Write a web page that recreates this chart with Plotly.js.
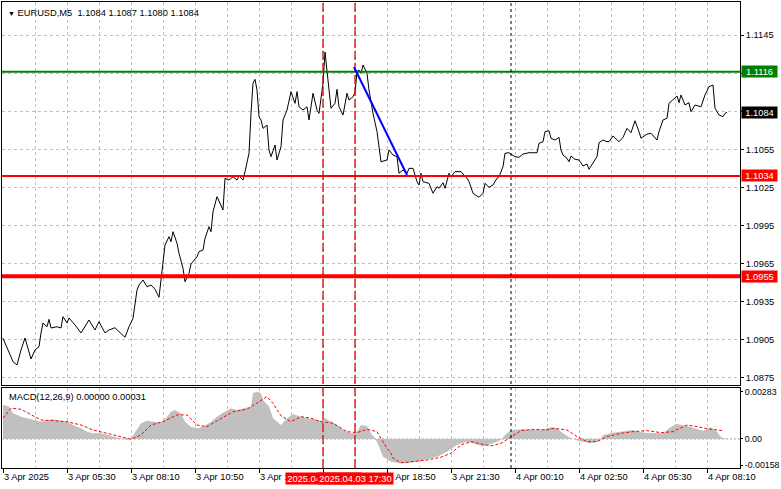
<!DOCTYPE html>
<html><head><meta charset="utf-8">
<script src="https://cdn.plot.ly/plotly-3.0.1.min.js"></script>
<style>html,body{margin:0;padding:0;background:#fff}#chart{width:781px;height:489px}</style>
</head><body><div id="chart"></div>
<script>
// bar index: 0 = 3 Apr 02:50, one bar = 5 minutes
const priceBar = [0,3,5,7,9,11,13,14,16,18,
19,20,22,23,24,27,29,30,32,33,
36,39,43,46,48,51,53,56,58,61,
63,65,67,68,70,72,74,76,78,79,
80,81,83,84,85,87,88,90,91,93,
94,95,97,98,100,101,103,104,105,107,
108,110,111,113,115,117,118,120,121,123,
124,125,126,127,128,129,130,132,133,134,
136,137,139,140,142,144,146,147,148,150,
152,153,155,157,158,160,161,162,163,164,
166,167,168,170,172,173,175,176,177,178,
179,180,182,183,185,187,189,192,193,195,
197,198,200,202,203,205,207,208,209,210,
213,215,217,218,220,221,223,224,226,229,
232,233,235,238,240,241,243,245,247,248,
250,251,253,256,258,260,263,267,268,270,
271,273,274,276,278,279,280,282,283,284,
286,288,290,292,293,295,297,298,300,302,
303,305,308,310,312,314,316,318,319,322,
324,327,328,330,332,333,335,337,338,339,
341,343,344,346,349,351,353,355,356,358,
360,361,362];
const priceClose = [1.09062,1.08946,1.08878,1.08852,1.08970,1.09064,1.08946,1.08899,1.08970,1.08996,
1.09104,1.09182,1.09153,1.09211,1.09143,1.09153,1.09143,1.09232,1.09182,1.09222,
1.09167,1.09104,1.09206,1.09127,1.09193,1.09104,1.09127,1.09145,1.09114,1.09070,
1.09153,1.09219,1.09442,1.09481,1.09521,1.09468,1.09481,1.09448,1.09385,1.09521,
1.09652,1.09796,1.09862,1.09822,1.09901,1.09810,1.09731,1.09613,1.09507,1.09574,
1.09647,1.09665,1.09704,1.09744,1.09757,1.09849,1.09941,1.09901,1.10059,1.10177,
1.10137,1.10072,1.10322,1.10308,1.10334,1.10308,1.10340,1.10308,1.10374,1.10519,
1.10833,1.11070,1.11101,1.11017,1.10807,1.10781,1.10715,1.10741,1.10544,1.10492,
1.10584,1.10466,1.10570,1.10781,1.10859,1.11004,1.10912,1.11004,1.10885,1.10859,
1.10885,1.10781,1.10991,1.10859,1.10833,1.11070,1.11316,1.11148,1.11043,1.10873,
1.10912,1.11022,1.10885,1.10820,1.10991,1.10938,1.10964,1.10996,1.11161,1.11174,
1.11148,1.11214,1.11148,1.11017,1.10833,1.10689,1.10452,1.10466,1.10544,1.10505,
1.10492,1.10361,1.10387,1.10361,1.10400,1.10400,1.10295,1.10269,1.10361,1.10295,
1.10282,1.10204,1.10256,1.10243,1.10287,1.10243,1.10361,1.10334,1.10374,1.10374,
1.10322,1.10295,1.10204,1.10172,1.10204,1.10282,1.10251,1.10269,1.10322,1.10334,
1.10413,1.10519,1.10523,1.10492,1.10487,1.10513,1.10523,1.10523,1.10597,1.10610,
1.10689,1.10696,1.10637,1.10623,1.10644,1.10544,1.10505,1.10479,1.10452,1.10497,
1.10471,1.10466,1.10419,1.10434,1.10393,1.10440,1.10492,1.10602,1.10623,1.10610,
1.10610,1.10655,1.10610,1.10644,1.10715,1.10681,1.10775,1.10689,1.10637,1.10670,
1.10676,1.10623,1.10689,1.10781,1.10794,1.10912,1.10938,1.10970,1.10917,1.10978,
1.10899,1.10917,1.10846,1.10899,1.10885,1.10978,1.11043,1.11056,1.10873,1.10820,
1.10807,1.10833,1.10840];

const histBar = [0,3,5,9,12,15,19,22,25,29,
32,35,39,42,45,49,52,55,59,62,
64,67,69,72,75,79,82,84,86,89,
91,94,97,100,104,107,110,114,117,120,
124,125,127,129,130,133,135,139,142,145,
149,152,155,159,161,164,167,170,174,177,
179,182,184,186,188,190,194,198,202,207,
212,217,222,227,232,237,240,245,249,251,
254,259,264,269,274,277,280,284,289,294,
298,300,305,310,315,320,325,330,334,337,
342,347,350,354,357,359,362];
const histVal = [0.00205,0.00195,0.00155,0.00134,0.00125,0.00114,0.00104,0.00114,0.00119,0.00110,
0.00104,0.00084,0.00064,0.00044,0.00034,0.00034,0.00024,0.00014,0.00004,-0.00006,
0.00004,0.00054,0.00095,0.00110,0.00104,0.00098,0.00134,0.00164,0.00175,0.00155,
0.00104,0.00074,0.00064,0.00074,0.00104,0.00134,0.00158,0.00185,0.00175,0.00185,
0.00195,0.00275,0.00285,0.00275,0.00235,0.00195,0.00125,0.00084,0.00125,0.00149,
0.00134,0.00125,0.00119,0.00110,0.00125,0.00104,0.00084,0.00054,0.00034,0.00044,
0.00084,0.00078,0.00034,0.00004,-0.00046,-0.00107,-0.00137,-0.00146,-0.00146,-0.00137,
-0.00122,-0.00107,-0.00077,-0.00036,-0.00016,-0.00036,-0.00046,-0.00026,-0.00006,0.00024,
0.00054,0.00058,0.00058,0.00054,0.00070,0.00064,0.00034,0.00004,-0.00016,-0.00026,
-0.00016,0.00024,0.00038,0.00044,0.00054,0.00038,0.00034,0.00034,0.00074,0.00090,
0.00078,0.00058,0.00050,0.00070,0.00044,0.00010,0.00000];

const sigBar = [0,4,9,14,19,25,32,39,45,52,
59,64,69,74,80,87,92,97,102,109,
115,122,127,132,135,139,144,149,154,159,
165,172,177,182,187,190,192,194,195,199,
205,212,219,224,229,234,239,244,249,254,
259,265,272,275,282,287,292,297,302,309,
315,322,329,335,342,347,354,360];
const sigVal = [0.00125,0.00185,0.00179,0.00145,0.00114,0.00110,0.00104,0.00084,0.00054,0.00034,
0.00014,-0.00002,0.00024,0.00084,0.00104,0.00145,0.00145,0.00084,0.00074,0.00125,
0.00164,0.00179,0.00215,0.00255,0.00215,0.00139,0.00104,0.00134,0.00125,0.00104,
0.00095,0.00044,0.00038,0.00058,0.00044,-0.00016,-0.00056,-0.00086,-0.00116,-0.00143,
-0.00137,-0.00127,-0.00110,-0.00086,-0.00036,-0.00016,-0.00030,-0.00042,-0.00026,0.00014,
0.00050,0.00058,0.00054,0.00064,0.00054,0.00014,-0.00016,-0.00016,0.00014,0.00034,
0.00044,0.00050,0.00038,0.00044,0.00084,0.00074,0.00058,0.00050];

const tickBars = [0,32,64,96,128,160,192,224,256,288,320,352];
// the 16:10 label is fully covered by the red time boxes in the reference
const tickLabels = ["3 Apr 2025","3 Apr 05:30","3 Apr 08:10","3 Apr 10:50","3 Apr 13:30","",
  "3 Apr 18:50","3 Apr 21:30","4 Apr 00:10","4 Apr 02:50","4 Apr 05:30","4 Apr 08:10"];
const gridPrices = [1.1145,1.1115,1.1085,1.1055,1.1025,1.0995,1.0965,1.0935,1.0905,1.0875];
// 1.1115 and 1.1085 labels are hidden under the level boxes in the reference
const gridLabels = ["1.1145","","","1.1055","1.1025","1.0995","1.0965","1.0935","1.0905","1.0875"];
const macdTicks = [0.00283,0,-0.00158];
const macdTickText = ["0.00283","0.00","-0.00158"];

const levelPrices = [1.1116,1.1034,1.0955];
const levelColors = ["#008000","#ff0000","#ff0000"];
const levelWidths = [2,2,4];
const bidPrice = 1.1084;
const markerBars = [160,176];
const markerLabels = ["2025.04.03 16:10","2025.04.03 17:30"];
const daySepBar = 254;
const trendBars = [175.5,202];
const trendPrices = [1.11198,1.10348];
const headerText = "EURUSD,M5\u00a0\u00a01.1084 1.1087 1.1080 1.1084";
const macdText = "MACD(12,26,9) 0.00000 0.00031";

const FONT = '"Liberation Sans", Arial, sans-serif';
const GRID = '#c0c0c0';
const XR = [-0.5,368.5];

const traces = [
  {x: histBar, y: histVal, xaxis:'x2', yaxis:'y2', type:'scatter', mode:'lines',
   fill:'tozeroy', fillcolor:'#c0c0c0', line:{width:0, color:'#c0c0c0'}, hoverinfo:'skip'},
  {x: sigBar, y: sigVal, xaxis:'x2', yaxis:'y2', type:'scatter', mode:'lines',
   line:{width:1, color:'#ff0000', dash:'3px,2px'}, hoverinfo:'skip'},
  {x: priceBar, y: priceClose, xaxis:'x', yaxis:'y', type:'scatter', mode:'lines',
   line:{width:1, color:'#000000'}, hoverinfo:'skip'}
];

const shapes = [];
shapes.push({type:'line', xref:'paper', x0:0, x1:1, yref:'y2', y0:0, y1:0,
  line:{color:'#a0a0a0', width:1, dash:'2px,2px'}, layer:'below'});
levelPrices.forEach((p,k)=>shapes.push({type:'line', xref:'paper', x0:0, x1:1, yref:'y', y0:p, y1:p,
  line:{color:levelColors[k], width:levelWidths[k]}}));
markerBars.forEach(b=>shapes.push({type:'line', xref:'x', x0:b, x1:b, yref:'paper', y0:0, y1:1,
  line:{color:'#e00000', width:1.3, dash:'9px,3px'}}));
shapes.push({type:'line', xref:'x', x0:daySepBar, x1:daySepBar, yref:'paper', y0:0, y1:1,
  line:{color:'#000000', width:1, dash:'3px,3px'}});
shapes.push({type:'line', xref:'x', yref:'y', x0:trendBars[0], x1:trendBars[1], y0:trendPrices[0], y1:trendPrices[1],
  line:{color:'#0000ff', width:2}});

const annotations = [];
annotations.push({xref:'paper', yref:'paper', x:0, y:1, xanchor:'left', yanchor:'top', xshift:4, yshift:-4,
  showarrow:false, text:'<span style="font-size:7px">▼</span> '+headerText, font:{family:FONT, size:9.3, color:'#000'}});
annotations.push({xref:'paper', yref:'paper', x:0, y:0.1717, xanchor:'left', yanchor:'top', xshift:5, yshift:-2,
  showarrow:false, text:macdText, font:{family:FONT, size:9.3, color:'#000'}});
levelPrices.forEach((p,k)=>annotations.push({xref:'paper', yref:'y', x:1, y:p, xanchor:'left', yanchor:'middle',
  xshift:1, showarrow:false, text:p.toFixed(4), bgcolor:levelColors[k], width:35, height:11, borderpad:0,
  font:{family:FONT, size:9.3, color:'#fff'}}));
annotations.push({xref:'paper', yref:'y', x:1, y:bidPrice, xanchor:'left', yanchor:'middle',
  xshift:1, showarrow:false, text:bidPrice.toFixed(4), bgcolor:'#000', width:35, height:11, borderpad:0,
  font:{family:FONT, size:9.3, color:'#fff'}});
markerBars.forEach((b,k)=>annotations.push({xref:'x2', yref:'paper', x:b, y:0, xanchor:'center', yanchor:'top',
  yshift:-4, showarrow:false, text:markerLabels[k], bgcolor:'#ff0000', width:75, height:11, borderpad:0,
  font:{family:FONT, size:9.3, color:'#fff'}}));

const axCommon = {showline:true, mirror:true, linecolor:'#000', linewidth:1, zeroline:false, fixedrange:true};
const layout = {
  width:781, height:489,
  margin:{l:2, r:41, t:2, b:21, pad:0},
  paper_bgcolor:'#fff', plot_bgcolor:'#fff', showlegend:false,
  font:{family:FONT, size:9.3, color:'#000'},
  xaxis: Object.assign({}, axCommon, {domain:[0,1], range:XR, anchor:'y', tickmode:'array', tickvals:tickBars,
    showticklabels:false, ticks:'', showgrid:true, gridcolor:GRID, griddash:'3px,3px', gridwidth:1,
    minor:{tickmode:'linear', tick0:0, dtick:16, showgrid:true, gridcolor:GRID, griddash:'3px,3px', ticks:''}}),
  yaxis: Object.assign({}, axCommon, {domain:[0.1781,1], range:[1.08694,1.1171], anchor:'x', side:'right',
    tickmode:'array', tickvals:gridPrices, ticktext:gridLabels, ticks:'outside', ticklen:3,
    tickcolor:'#000', showgrid:true, gridcolor:GRID, griddash:'3px,3px', gridwidth:1}),
  xaxis2: Object.assign({}, axCommon, {domain:[0,1], range:XR, anchor:'y2', matches:'x', tickmode:'array',
    tickvals:tickBars, ticktext:tickLabels, ticks:'outside', ticklen:4, tickcolor:'#000',
    ticklabelposition:'outside right', showgrid:true, gridcolor:GRID, griddash:'3px,3px', gridwidth:1,
    minor:{tickmode:'linear', tick0:0, dtick:16, showgrid:true, gridcolor:GRID, griddash:'3px,3px', ticks:''}}),
  yaxis2: Object.assign({}, axCommon, {domain:[0,0.1717], range:[-0.00175,0.00307], anchor:'x2', side:'right',
    tickmode:'array', tickvals:macdTicks, ticktext:macdTickText, ticks:'outside', ticklen:2, tickcolor:'#000',
    tickfont:{family:FONT, size:8.8, color:'#000'}, showgrid:false}),
  shapes: shapes,
  annotations: annotations
};
Plotly.newPlot('chart', traces, layout, {staticPlot:true, displayModeBar:false});
</script>
</body></html>
